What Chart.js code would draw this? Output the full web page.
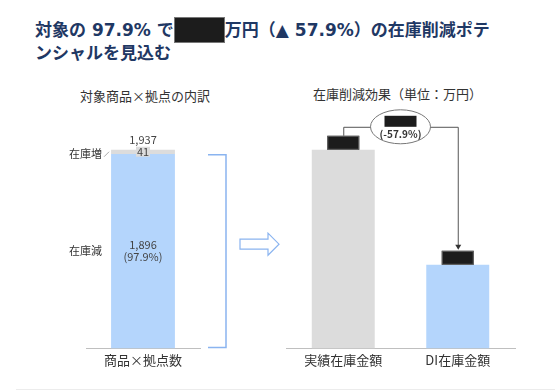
<!DOCTYPE html>
<html>
<head>
<meta charset="utf-8">
<script src="https://cdn.jsdelivr.net/npm/chart.js@4/dist/chart.umd.min.js"></script>
<style>
  body { margin: 0; background: #fff; font-family: "Noto Sans CJK JP", sans-serif; }
  #page { position: relative; width: 555px; height: 392px; overflow: hidden; }
  #title { position: absolute; left: 35px; top: 17px; font-family: "DejaVu Sans", "Noto Sans CJK JP", sans-serif; font-size: 17px; font-weight: bold; color: #1f3864; line-height: 21px; white-space: nowrap; }
  .mask { display: inline-block; width: 51px; height: 26px; background: #1c1c1c; border: 1px solid #777; box-sizing: border-box; vertical-align: -7px; }
  .sub { position: absolute; font-size: 13px; color: #333; white-space: nowrap; }
  #leftWrap { position: absolute; left: 55px; top: 115px; width: 180px; height: 270px; }
  #rightWrap { position: absolute; left: 235px; top: 100px; width: 305px; height: 285px; }
  #bottomLine { position: absolute; left: 16px; top: 389px; width: 539px; height: 1px; background: #ececec; }
</style>
</head>
<body>
<div id="page">
  <div id="title">対象の 97.9% で<span class="mask"></span>万円（▲ 57.9%）の在庫削減ポテ<br>ンシャルを見込む</div>
  <div class="sub" style="left:80px; top:86px;">対象商品×拠点の内訳</div>
  <div class="sub" style="left:313px; top:84px;">在庫削減効果（単位：万円）</div>
  <div id="leftWrap"><canvas id="leftChart"></canvas></div>
  <div id="rightWrap"><canvas id="rightChart"></canvas></div>
  <div id="bottomLine"></div>
</div>
<script>
// left: breakdown of item x location count
const leftLabels = ["商品×拠点数"];
const decreaseCount = [1896];
const increaseCount = [41];
const totalCount = [1937];
const decreaseShare = ["(97.9%)"];

// right: inventory amounts (actual figures are masked in the source, index 100 = actual)
const amountLabels = ["実績在庫金額", "DI在庫金額"];
const amounts = [100, 42.1];
const reductionRate = "(-57.9%)";

const blue = "#b4d5fc";
const gray = "#dcdcdc";
const lineBlue = "#8ab4f0";
const font = "'Noto Sans CJK JP', sans-serif";

const xAxis = {
  stacked: true,
  grid: { display: false, drawTicks: false },
  border: { display: true, color: "#bfbfbf", width: 1 },
  ticks: { color: "#333", padding: 4, font: { size: 13, family: font } }
};

// labels + bracket for the left chart
const leftDeco = {
  id: "leftDeco",
  afterDraw: function (chart) {
    const c = chart.ctx;
    const y = chart.scales.y;
    const area = chart.chartArea;
    const bar = chart.getDatasetMeta(0).data[0];
    const x = bar.x;
    const topY = y.getPixelForValue(totalCount[0]);
    const midLow = (y.getPixelForValue(decreaseCount[0]) + y.getPixelForValue(0)) / 2;
    c.save();
    c.font = "11px " + font;
    c.fillStyle = "#444";
    c.textAlign = "center";
    c.textBaseline = "middle";
    c.fillText(totalCount[0].toLocaleString("en-US"), x, topY - 10);
    c.fillStyle = gray;
    c.fillRect(x - 7, topY - 3, 14, 10);
    c.fillStyle = "#444";
    c.fillText(String(increaseCount[0]), x, topY + 2);
    c.fillText(decreaseCount[0].toLocaleString("en-US"), x, midLow - 6);
    c.fillText(decreaseShare[0], x, midLow + 6);
    c.textAlign = "right";
    c.fillStyle = "#333";
    c.fillText("在庫増", bar.x - bar.width / 2 - 9, topY + 4);
    c.fillText("在庫減", bar.x - bar.width / 2 - 9, midLow);
    c.strokeStyle = "#aaa";
    c.lineWidth = 1;
    c.beginPath();
    c.moveTo(bar.x - bar.width / 2 - 7, topY + 7);
    c.lineTo(bar.x - bar.width / 2 - 2, topY + 2);
    c.stroke();
    // bracket
    c.strokeStyle = lineBlue;
    c.lineWidth = 1.5;
    c.beginPath();
    c.moveTo(area.right + 8, topY + 5);
    c.lineTo(area.right + 26, topY + 5);
    c.lineTo(area.right + 26, area.bottom - 1);
    c.lineTo(area.right + 8, area.bottom - 1);
    c.stroke();
    c.restore();
  }
};

new Chart(document.getElementById("leftChart").getContext("2d"), {
  type: "bar",
  data: {
    labels: leftLabels,
    datasets: [
      { label: "在庫減", data: decreaseCount, backgroundColor: blue },
      { label: "在庫増", data: increaseCount, backgroundColor: gray }
    ]
  },
  options: {
    responsive: true,
    maintainAspectRatio: false,
    animation: false,
    layout: { padding: { left: 31, right: 35, top: 18, bottom: 13 } },
    datasets: { bar: { categoryPercentage: 1, barPercentage: 0.56 } },
    plugins: { legend: { display: false }, tooltip: { enabled: false } },
    scales: {
      x: xAxis,
      y: { stacked: true, display: false, min: 0, max: 2100 }
    }
  },
  plugins: [leftDeco]
});

// masked value boxes, connector and arrow for the right chart
const rightDeco = {
  id: "rightDeco",
  afterDraw: function (chart) {
    const c = chart.ctx;
    const area = chart.chartArea;
    const bars = chart.getDatasetMeta(0).data;
    const a = bars[0], b = bars[1];
    const bw = 32, bh = 14;
    c.save();
    // outline arrow between the two panels
    const ax = area.left - 46, ay = (area.top + area.bottom) / 2 + 10;
    c.strokeStyle = lineBlue;
    c.lineWidth = 1.2;
    c.fillStyle = "#fff";
    c.beginPath();
    c.moveTo(ax, ay - 5);
    c.lineTo(ax + 28, ay - 5);
    c.lineTo(ax + 28, ay - 11);
    c.lineTo(ax + 39, ay);
    c.lineTo(ax + 28, ay + 11);
    c.lineTo(ax + 28, ay + 5);
    c.lineTo(ax, ay + 5);
    c.closePath();
    c.fill();
    c.stroke();
    // value boxes
    c.fillStyle = "#1c1c1c";
    c.strokeStyle = "#666";
    c.lineWidth = 1;
    [a, b].forEach(function (bar) {
      c.fillRect(bar.x - bw / 2, bar.y - bh, bw, bh);
      c.strokeRect(bar.x - bw / 2 + 0.5, bar.y - bh + 0.5, bw - 1, bh - 1);
    });
    // connector
    const lineY = a.y - bh - 9;
    const cx = (a.x + b.x) / 2;
    c.strokeStyle = "#555";
    c.beginPath();
    c.moveTo(a.x + 0.5, a.y - bh);
    c.lineTo(a.x + 0.5, lineY + 0.5);
    c.lineTo(b.x + 0.5, lineY + 0.5);
    c.lineTo(b.x + 0.5, b.y - bh - 4);
    c.stroke();
    c.fillStyle = "#333";
    c.beginPath();
    c.moveTo(b.x + 0.5, b.y - bh - 1);
    c.lineTo(b.x - 2.5, b.y - bh - 6);
    c.lineTo(b.x + 3.5, b.y - bh - 6);
    c.closePath();
    c.fill();
    // ellipse with rate
    c.fillStyle = "#fff";
    c.strokeStyle = "#777";
    c.beginPath();
    c.ellipse(cx, lineY, 30, 17, 0, 0, Math.PI * 2);
    c.fill();
    c.stroke();
    c.fillStyle = "#1c1c1c";
    c.fillRect(cx - 16, lineY - 11, 32, 11);
    c.fillStyle = "#333";
    c.font = "bold 10px " + font;
    c.textAlign = "center";
    c.textBaseline = "middle";
    c.fillText(reductionRate, cx, lineY + 7);
    c.restore();
  }
};

new Chart(document.getElementById("rightChart").getContext("2d"), {
  type: "bar",
  data: {
    labels: amountLabels,
    datasets: [{ data: amounts, backgroundColor: [gray, blue] }]
  },
  options: {
    responsive: true,
    maintainAspectRatio: false,
    animation: false,
    layout: { padding: { left: 51, right: 25, top: 20, bottom: 13 } },
    datasets: { bar: { categoryPercentage: 1, barPercentage: 0.55 } },
    plugins: { legend: { display: false }, tooltip: { enabled: false } },
    scales: {
      x: xAxis,
      y: { display: false, min: 0, max: 115 }
    }
  },
  plugins: [rightDeco]
});
</script>
</body>
</html>
